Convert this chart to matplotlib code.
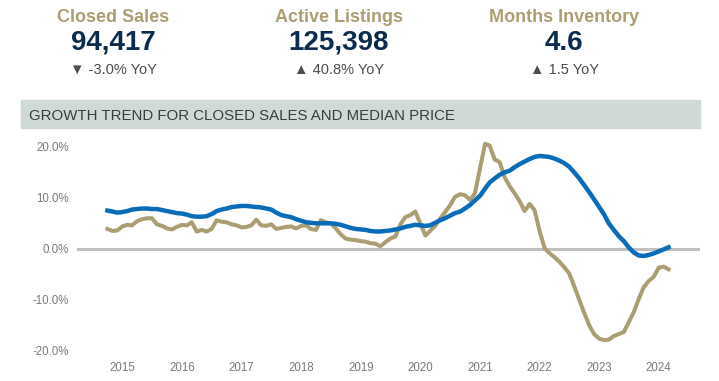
import numpy as np
import pandas as pd
import matplotlib.pyplot as plt
import matplotlib.dates as mdates
from matplotlib.patches import Rectangle

plt.rcParams['font.family'] = ['Liberation Sans', 'DejaVu Sans']

# header figures
kpi_titles = ['Closed Sales', 'Active Listings', 'Months Inventory']
kpi_values = ['94,417', '125,398', '4.6']
kpi_changes = ['\u25bc -3.0% YoY', '\u25b2 40.8% YoY', '\u25b2 1.5 YoY']

# monthly YoY growth (%), Oct 2014 .. Mar 2024
price_growth = [
    7.5, 7.3, 7.1,
    7.2, 7.4, 7.7, 7.8, 7.9, 7.9, 7.8, 7.8, 7.6, 7.4, 7.2, 7.0,
    6.9, 6.7, 6.4, 6.3, 6.3, 6.4, 6.8, 7.4, 7.7, 7.9, 8.2, 8.3,
    8.4, 8.4, 8.3, 8.2, 8.1, 7.9, 7.7, 7.1, 6.6, 6.4, 6.2, 5.8,
    5.5, 5.2, 5.1, 5.0, 5.0, 5.0, 5.0, 4.9, 4.7, 4.4, 4.1, 3.9,
    3.8, 3.7, 3.5, 3.4, 3.4, 3.5, 3.6, 3.8, 4.0, 4.3, 4.5, 4.7,
    4.6, 4.5, 4.6, 5.1, 5.6, 6.0, 6.5, 7.0, 7.3, 7.9, 8.6, 9.5,
    10.4, 11.8, 13.0, 13.8, 14.5, 15.0, 15.3, 16.0, 16.6, 17.1, 17.6, 18.0,
    18.2, 18.1, 18.0, 17.7, 17.3, 16.8, 16.1, 15.0, 13.8, 12.5, 11.1, 9.7,
    8.2, 6.7, 5.0, 3.7, 2.5, 1.5, 0.3, -0.7, -1.3, -1.4, -1.2, -0.9,
    -0.5, -0.1, 0.3,
]
sales_growth = [
    3.9, 3.5, 3.6,
    4.4, 4.7, 4.6, 5.4, 5.8, 6.0, 6.0, 4.8, 4.5, 4.0, 3.8, 4.3,
    4.7, 4.6, 5.2, 3.4, 3.7, 3.4, 3.9, 5.6, 5.3, 5.2, 4.8, 4.6,
    4.2, 4.3, 4.6, 5.7, 4.6, 4.5, 4.8, 3.9, 4.1, 4.3, 4.4, 4.0,
    4.5, 4.6, 3.9, 3.7, 5.6, 5.2, 5.0, 4.0, 2.8, 2.0, 1.8, 1.7,
    1.5, 1.4, 1.1, 1.0, 0.5, 1.3, 2.0, 2.4, 4.8, 6.2, 6.6, 7.3,
    5.0, 2.6, 3.5, 4.5, 5.9, 7.2, 8.5, 10.2, 10.7, 10.5, 9.6, 10.9,
    15.8, 20.6, 20.2, 17.5, 17.0, 14.0, 12.3, 10.9, 9.3, 7.4, 8.8, 7.6,
    3.5, 0.1, -0.8, -1.6, -2.5, -3.6, -4.8, -7.3, -10.0, -12.5, -15.0, -16.7,
    -17.6, -17.9, -17.8, -17.1, -16.7, -16.3, -14.4, -12.4, -9.8, -7.5, -6.3, -5.5,
    -3.7, -3.5, -4.0,
]
months = pd.date_range('2014-10-01', periods=len(price_growth), freq='MS')

W, H = 719, 381
fig = plt.figure(figsize=(W / 100, H / 100), dpi=100)

gold = '#ab9e72'
navy = '#0c2c4f'
blue = '#0a6cb8'

for cx, t, v, c in zip([113, 339, 564], kpi_titles, kpi_values, kpi_changes):
    fig.text(cx / W, 1 - 17 / H, t, ha='center', va='center', fontsize=13,
             fontweight='bold', color=gold)
    fig.text(cx / W, 1 - 43 / H, v, ha='center', va='center', fontsize=20,
             fontweight='bold', color=navy)
    fig.text(cx / W, 1 - 70 / H, c, ha='center', va='center', fontsize=10.5,
             color='#4d4d4d')

# section banner
fig.patches.append(Rectangle((21 / W, 1 - 128 / H), 679 / W, 28 / H,
                             transform=fig.transFigure, color='#cfdad5', zorder=0))
fig.text(29 / W, 1 - 115.5 / H, 'GROWTH TREND FOR CLOSED SALES AND MEDIAN PRICE',
         ha='left', va='center', fontsize=10.8, color='#3c3c3c')

ax = fig.add_axes([77 / W, 1 - 356 / H, 623 / W, 222 / H])
ax.axhline(0, color='#c0c0c0', lw=2.2, zorder=1)
ax.plot(months, sales_growth, color=gold, lw=2.9, zorder=2)
ax.plot(months, price_growth, color=blue, lw=3.2, zorder=3)

ax.set_ylim(-21, 22.5)
ax.set_yticks([-20, -10, 0, 10, 20])
ax.yaxis.set_major_formatter(plt.FuncFormatter(lambda v, p: f'{v:.1f}%'))
ax.set_xlim(pd.Timestamp('2014-03-29'), pd.Timestamp('2024-09-10'))
ax.xaxis.set_major_locator(mdates.YearLocator())
ax.xaxis.set_major_formatter(mdates.DateFormatter('%Y'))
ax.tick_params(length=0, labelsize=8.3, labelcolor='#7a7a7a', pad=4)
ax.tick_params(axis='y', pad=6)
for s in ax.spines.values():
    s.set_visible(False)

fig.savefig('out.png', dpi=100)
